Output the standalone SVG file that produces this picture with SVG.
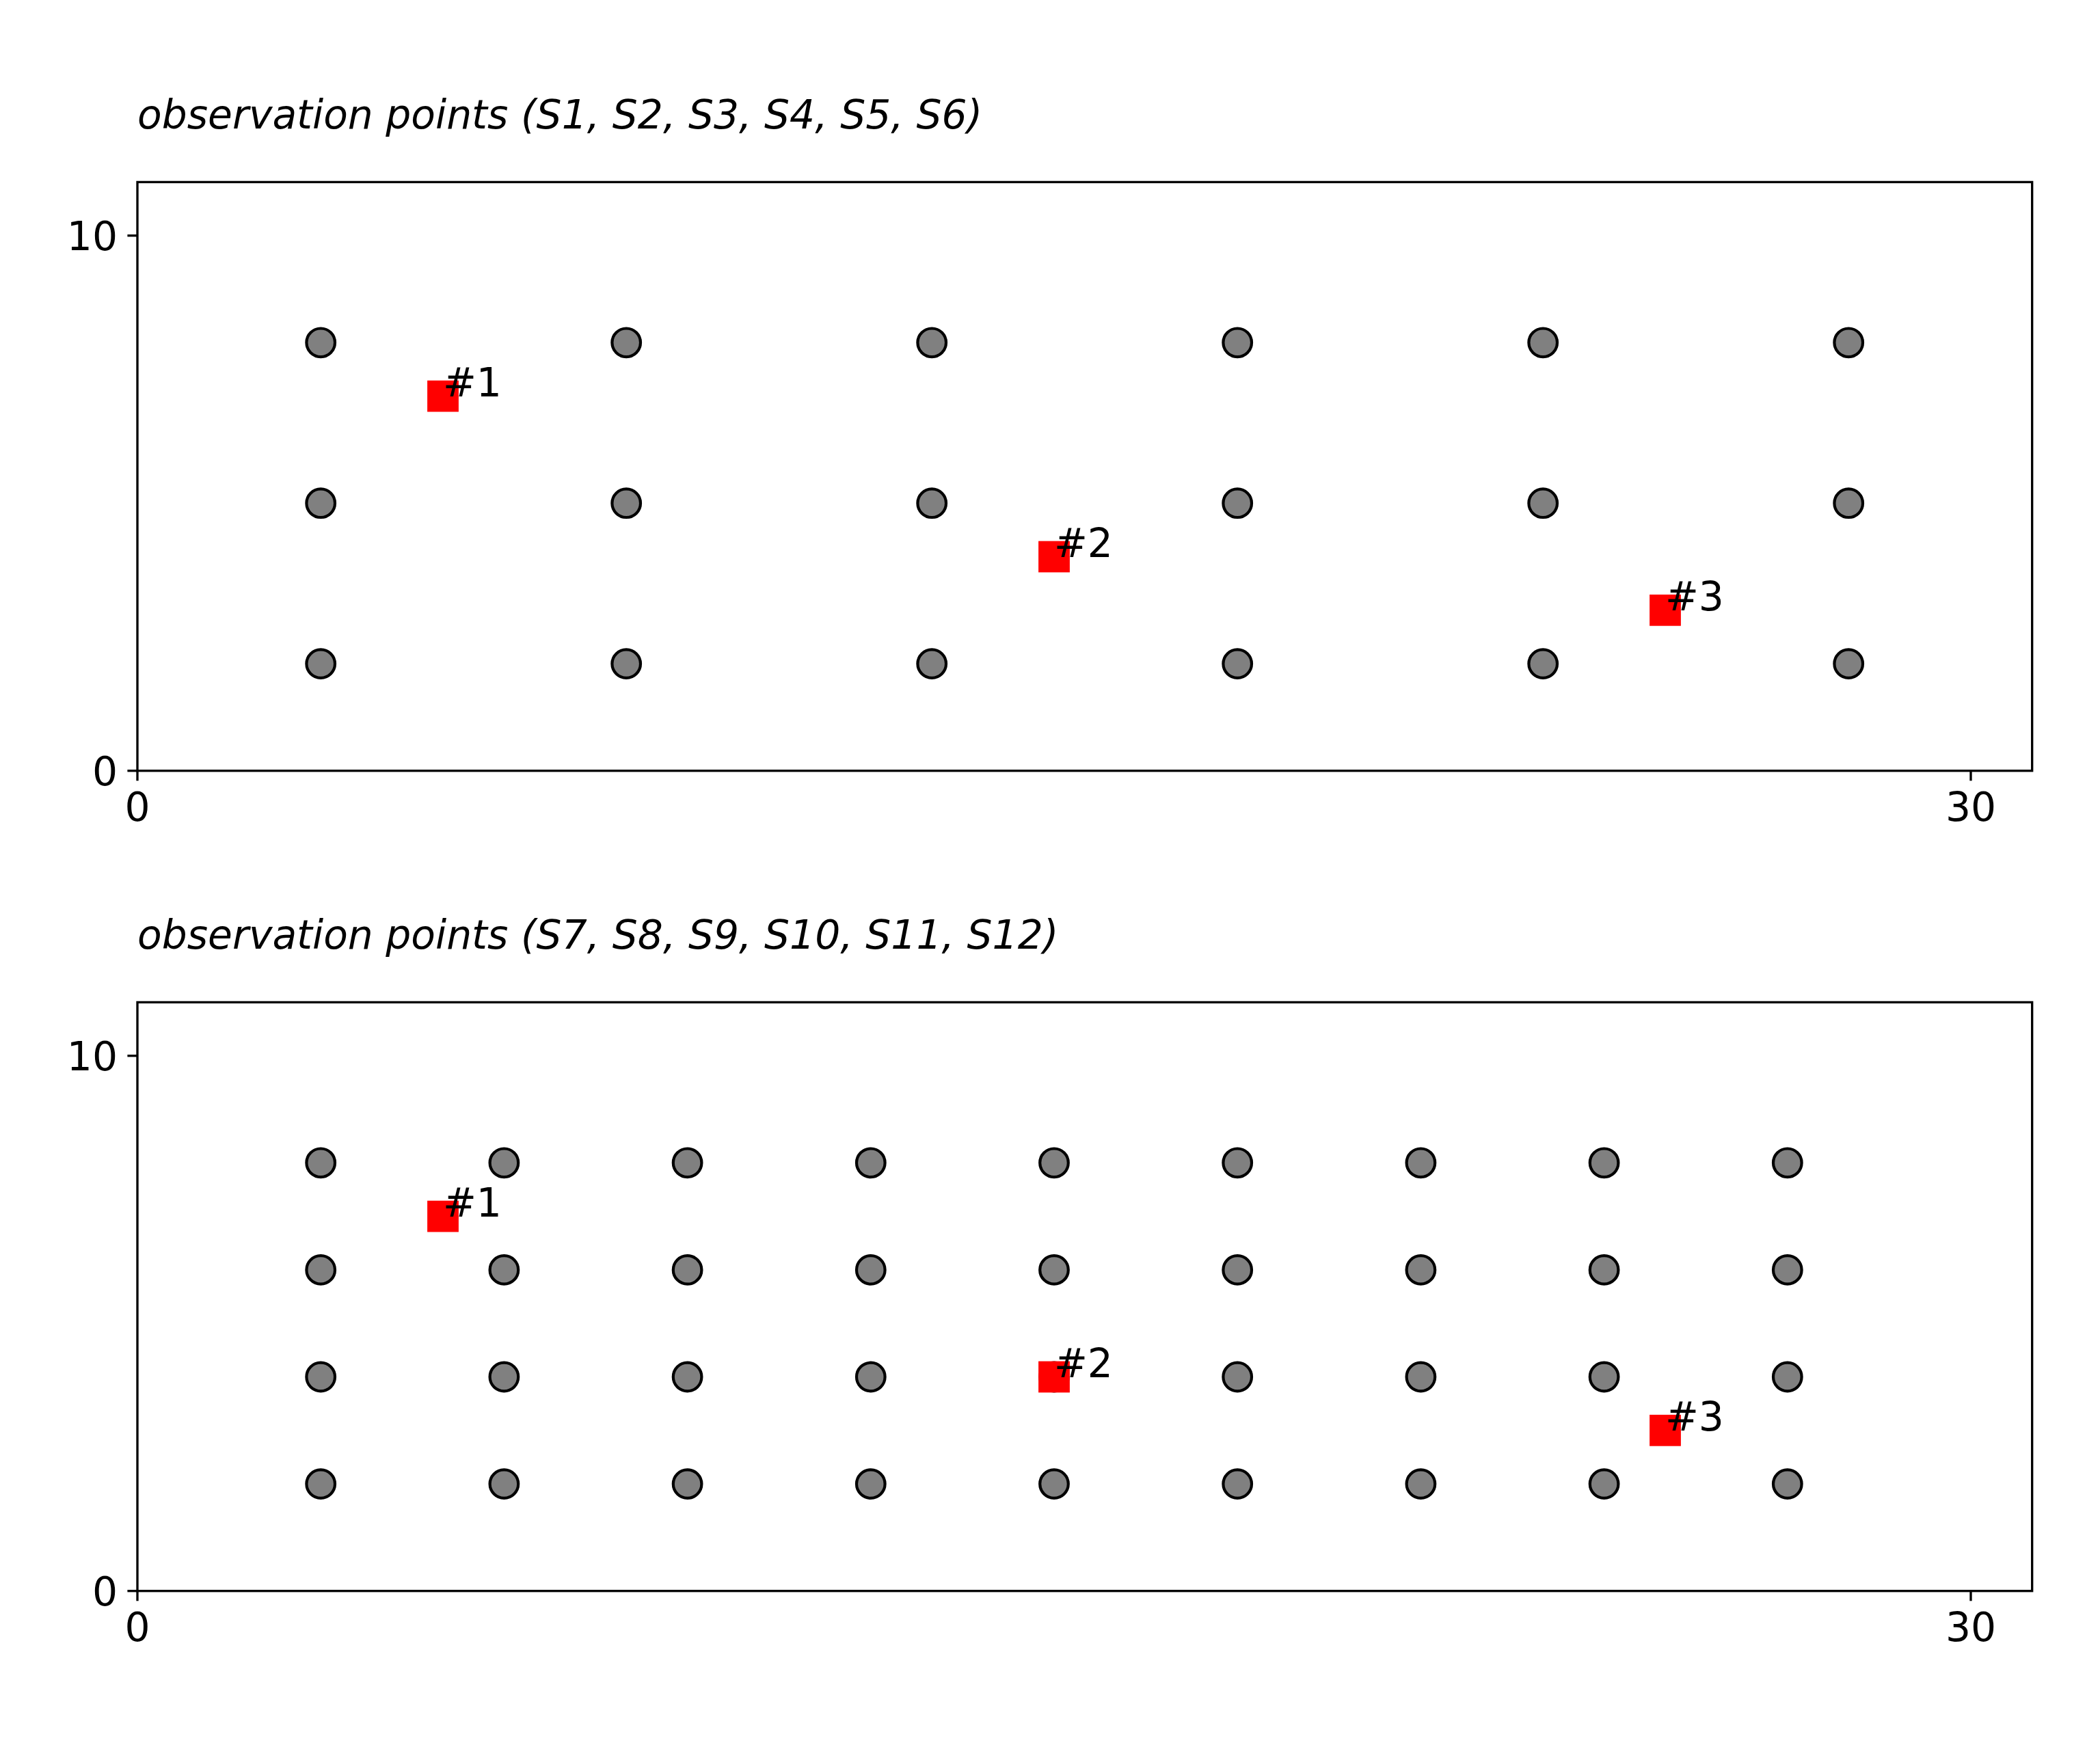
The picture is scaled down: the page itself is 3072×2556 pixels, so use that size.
<svg xmlns="http://www.w3.org/2000/svg" xmlns:xlink="http://www.w3.org/1999/xlink" width="3072" height="2556" viewBox="0 0 3072 2556">
<style>
text{font-family:"DejaVu Sans","Liberation Sans",sans-serif;font-size:58.3px;fill:#000}
.title{font-style:italic}
.tx{text-anchor:middle}
.ty{text-anchor:end}
.spine{fill:none;stroke:#000;stroke-width:3.33;stroke-linecap:square}
.tick{stroke:#000;stroke-width:3.33}
.pt{fill:#808080;stroke:#000;stroke-width:4.2}
.sq{fill:#ff0000}
</style>
<defs>
<circle id="c" r="20.8" class="pt"/>
<rect id="s" x="-22.9" y="-22.9" width="45.8" height="45.8" class="sq"/>
</defs>
<rect width="3072" height="2556" fill="#ffffff"/>

<g id="panel-top">
<text class="title" x="201" y="188">observation points (S1, S2, S3, S4, S5, S6)</text>
<g id="axes-top">
<rect class="spine" x="201" y="266.4" width="2771.7" height="861.3"/>
<line class="tick" x1="201" y1="1127.7" x2="201" y2="1142.3"/>
<line class="tick" x1="2883" y1="1127.7" x2="2883" y2="1142.3"/>
<line class="tick" x1="186.4" y1="1127.7" x2="201" y2="1127.7"/>
<line class="tick" x1="186.4" y1="344.7" x2="201" y2="344.7"/>
<text class="tx" x="201" y="1201">0</text>
<text class="tx" x="2883" y="1201">30</text>
<text class="ty" x="172" y="1149">0</text>
<text class="ty" x="172" y="366">10</text>
</g>
<g id="points-top">
<use href="#c" x="469.2" y="501.3"/><use href="#c" x="916.2" y="501.3"/><use href="#c" x="1363.2" y="501.3"/><use href="#c" x="1810.2" y="501.3"/><use href="#c" x="2257.2" y="501.3"/><use href="#c" x="2704.2" y="501.3"/>
<use href="#c" x="469.2" y="736.2"/><use href="#c" x="916.2" y="736.2"/><use href="#c" x="1363.2" y="736.2"/><use href="#c" x="1810.2" y="736.2"/><use href="#c" x="2257.2" y="736.2"/><use href="#c" x="2704.2" y="736.2"/>
<use href="#c" x="469.2" y="971.1"/><use href="#c" x="916.2" y="971.1"/><use href="#c" x="1363.2" y="971.1"/><use href="#c" x="1810.2" y="971.1"/><use href="#c" x="2257.2" y="971.1"/><use href="#c" x="2704.2" y="971.1"/>
</g>
<g id="src1-top"><use href="#s" x="648" y="579.6"/><text x="648" y="579.6">#1</text></g>
<g id="src2-top"><use href="#s" x="1542" y="814.5"/><text x="1542" y="814.5">#2</text></g>
<g id="src3-top"><use href="#s" x="2436" y="892.8"/><text x="2436" y="892.8">#3</text></g>
</g>

<g id="panel-bottom">
<text class="title" x="201" y="1388">observation points (S7, S8, S9, S10, S11, S12)</text>
<g id="axes-bottom">
<rect class="spine" x="201" y="1466.4" width="2771.7" height="861.3"/>
<line class="tick" x1="201" y1="2327.7" x2="201" y2="2342.3"/>
<line class="tick" x1="2883" y1="2327.7" x2="2883" y2="2342.3"/>
<line class="tick" x1="186.4" y1="2327.7" x2="201" y2="2327.7"/>
<line class="tick" x1="186.4" y1="1544.7" x2="201" y2="1544.7"/>
<text class="tx" x="201" y="2401">0</text>
<text class="tx" x="2883" y="2401">30</text>
<text class="ty" x="172" y="2349">0</text>
<text class="ty" x="172" y="1566">10</text>
</g>
<g id="points-bottom">
<use href="#c" x="469.2" y="1701.3"/><use href="#c" x="737.4" y="1701.3"/><use href="#c" x="1005.6" y="1701.3"/><use href="#c" x="1273.8" y="1701.3"/><use href="#c" x="1542" y="1701.3"/><use href="#c" x="1810.2" y="1701.3"/><use href="#c" x="2078.4" y="1701.3"/><use href="#c" x="2346.6" y="1701.3"/><use href="#c" x="2614.8" y="1701.3"/>
<use href="#c" x="469.2" y="1857.9"/><use href="#c" x="737.4" y="1857.9"/><use href="#c" x="1005.6" y="1857.9"/><use href="#c" x="1273.8" y="1857.9"/><use href="#c" x="1542" y="1857.9"/><use href="#c" x="1810.2" y="1857.9"/><use href="#c" x="2078.4" y="1857.9"/><use href="#c" x="2346.6" y="1857.9"/><use href="#c" x="2614.8" y="1857.9"/>
<use href="#c" x="469.2" y="2014.5"/><use href="#c" x="737.4" y="2014.5"/><use href="#c" x="1005.6" y="2014.5"/><use href="#c" x="1273.8" y="2014.5"/><use href="#c" x="1542" y="2014.5"/><use href="#c" x="1810.2" y="2014.5"/><use href="#c" x="2078.4" y="2014.5"/><use href="#c" x="2346.6" y="2014.5"/><use href="#c" x="2614.8" y="2014.5"/>
<use href="#c" x="469.2" y="2171.1"/><use href="#c" x="737.4" y="2171.1"/><use href="#c" x="1005.6" y="2171.1"/><use href="#c" x="1273.8" y="2171.1"/><use href="#c" x="1542" y="2171.1"/><use href="#c" x="1810.2" y="2171.1"/><use href="#c" x="2078.4" y="2171.1"/><use href="#c" x="2346.6" y="2171.1"/><use href="#c" x="2614.8" y="2171.1"/>
</g>
<g id="src1-bottom"><use href="#s" x="648" y="1779.6"/><text x="648" y="1779.6">#1</text></g>
<g id="src2-bottom"><use href="#s" x="1542" y="2014.5"/><text x="1542" y="2014.5">#2</text></g>
<g id="src3-bottom"><use href="#s" x="2436" y="2092.8"/><text x="2436" y="2092.8">#3</text></g>
</g>
<g id="connectors"/>
</svg>
